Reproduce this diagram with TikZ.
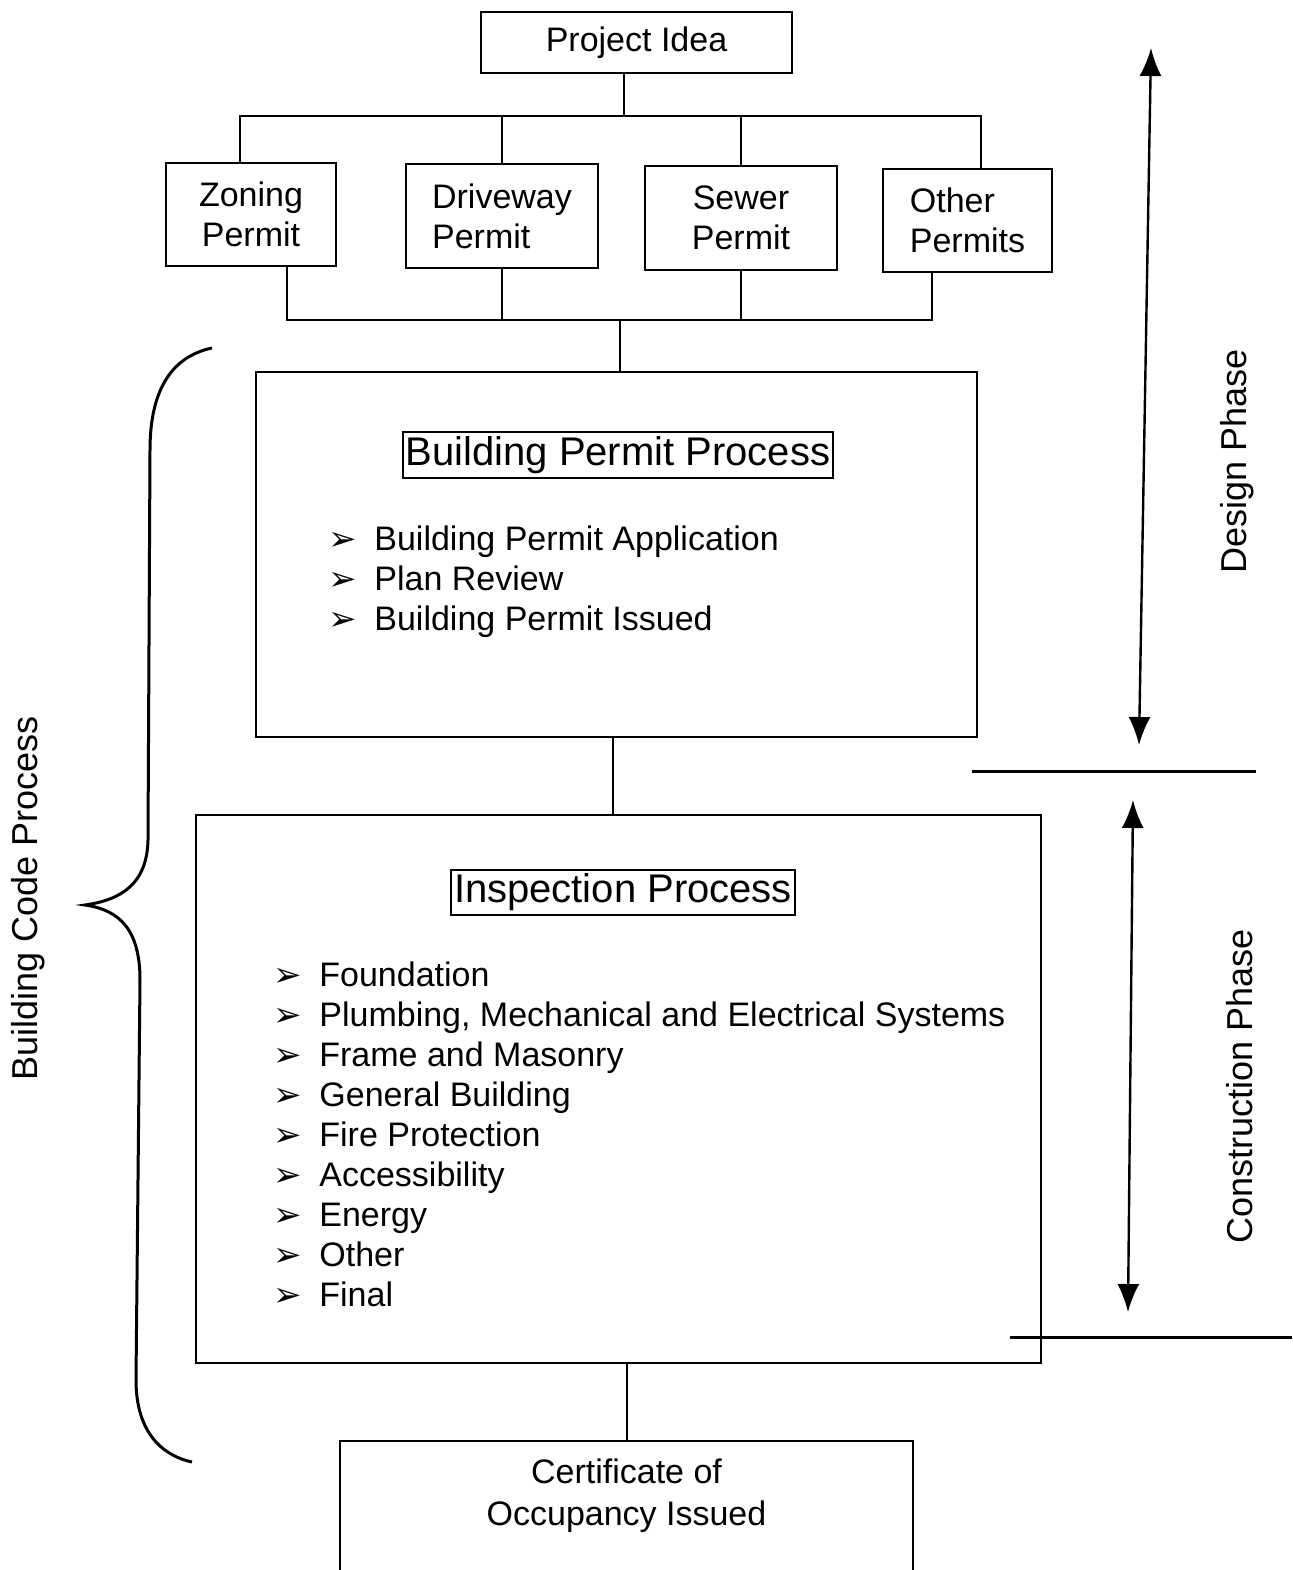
\documentclass[tikz,border=0pt]{standalone}
\usepackage{fontspec}
\setmainfont{Liberation Sans}
\newfontfamily\bulletfont{DejaVu Sans}
\usetikzlibrary{arrows.meta, positioning}
\newcommand{\arrowitem}{\makebox[23pt][l]{\bulletfont\fontsize{17}{17}\selectfont ➢}}

\begin{document}
\begin{tikzpicture}[x=0.5pt, y=-0.5pt, >={Latex[length=14pt,width=11pt]}, font=\fontsize{17}{20}\selectfont]
        % Styles
        \tikzstyle{block} = [rectangle, draw, line width=1.2pt, inner sep=0pt, align=center]
        \tikzstyle{title} = [rectangle, draw, line width=1pt, inner xsep=1.5pt, inner ysep=2pt, font=\fontsize{20}{24}\selectfont]
        \tikzstyle{line} = [draw, line width=1pt]
        \tikzstyle{phase} = [draw, line width=1.2pt, <->]
        \tikzstyle{list} = [anchor=north west, align=left, inner sep=0pt]
        \tikzstyle{side} = [rotate=90, font=\fontsize{18}{20}\selectfont]

        \useasboundingbox (0,0) rectangle (1292,1570);

        % Nodes
        \node (idea) [block, minimum width=155.5pt, minimum height=30.5pt] at (636.5,42.5) {Project Idea};
        \node (zoning) [block, minimum width=85pt, minimum height=51.5pt] at (251,214.5) {Zoning\\Permit};
        \node (driveway) [block, minimum width=96pt, minimum height=52pt, align=left] at (502,216) {Driveway\\Permit};
        \node (sewer) [block, minimum width=96pt, minimum height=52pt] at (741,218) {Sewer\\Permit};
        \node (other) [block, minimum width=84.5pt, minimum height=51.5pt, align=left] at (967.5,220.5) {Other\\Permits};

        \node (bpp) [block, minimum width=360.5pt, minimum height=182.5pt] at (616.5,554.5) {};
        \node (bpptitle) [title] at (618,455) {Building Permit Process};
        \node (bpplist) [list] at (328,525) {\arrowitem Building Permit Application\\
                \arrowitem Plan Review\\
                \arrowitem Building Permit Issued};

        \node (insp) [block, minimum width=422.5pt, minimum height=274pt] at (618.5,1089) {};
        \node (insptitle) [title] at (623,892.5) {Inspection Process};
        \node (insplist) [list] at (273,961) {\arrowitem Foundation\\
                \arrowitem Plumbing, Mechanical and Electrical Systems\\
                \arrowitem Frame and Masonry\\
                \arrowitem General Building\\
                \arrowitem Fire Protection\\
                \arrowitem Accessibility\\
                \arrowitem Energy\\
                \arrowitem Other\\
                \arrowitem Final};

        \node (cert) [block, anchor=north, minimum width=286.5pt, minimum height=70pt] at (626.5,1440) {};
        \node (certtext) [below=9pt of cert.north, inner sep=0pt, align=center, font=\fontsize{17}{21}\selectfont] {Certificate of\\Occupancy Issued};

        % Side labels
        \node (design) [side] at (1237,461) {Design Phase};
        \node (construction) [side] at (1240,1086) {Construction Phase};
        \node (codeproc) [side] at (28,898) {Building Code Process};

        % Connectors
        \coordinate (topbus) at (624,116);
        \coordinate (botbus) at (620,320);
        \path [line] (idea.south -| topbus) -- (topbus);
        \path [line] ([xshift=-5.5pt]zoning.north) |- (topbus) -| ([xshift=6.5pt]other.north);
        \path [line] (driveway.north) |- (topbus);
        \path [line] (sewer.north) |- (topbus);
        \path [line] ([xshift=18pt]zoning.south) |- (botbus) -| ([xshift=-18pt]other.south);
        \path [line] (driveway.south) |- (botbus);
        \path [line] (sewer.south) |- (botbus);
        \path [line] (botbus) -- (bpp.north -| botbus);
        \path [line] ([xshift=-1.75pt]bpp.south) -- ([xshift=-1.75pt]bpp.south |- insp.north);
        \path [line] (insp.south -| cert.north) -- (cert.north);

        % Phases
        \coordinate (designtop) at (1151,48);
        \coordinate (designbot) at (1139,745);
        \coordinate (constop) at (1133,800);
        \coordinate (consbot) at (1128,1312);
        \draw [phase] (designtop) -- (designbot);
        \draw [phase] (constop) -- (consbot);
        \coordinate (divonea) at (972,771);
        \coordinate (diveneb) at (1256,771);
        \coordinate (divtwoa) at (1010,1337);
        \coordinate (divtwob) at (1292,1337);
        \path [line, line width=1.5pt] (divonea) -- (diveneb);
        \path [line, line width=1.5pt] (divtwoa) -- (divtwob);

        % Brace
        \draw [line width=1.5pt] (212,348) .. controls (165,358) and (150,400) .. (150,450) -- (148,840)
                .. controls (147,885) and (120,900) .. (85,905)
                .. controls (120,910) and (140,930) .. (140,980) -- (136,1380)
                .. controls (136,1430) and (160,1455) .. (192,1462);

    \end{tikzpicture}
\end{document}
